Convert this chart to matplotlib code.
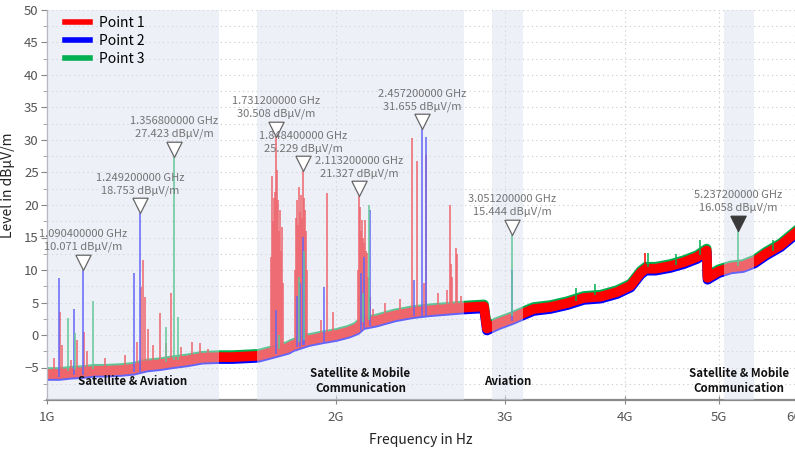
import numpy as np
import matplotlib
matplotlib.use("Agg")
import matplotlib.pyplot as plt
from matplotlib.lines import Line2D
from matplotlib.ticker import FixedLocator, NullLocator, MultipleLocator

plt.rcParams['font.family'] = ['Noto Sans CJK KR', 'DejaVu Sans']

# ---------------- data (frequency in GHz, level in dBuV/m) ----------------
band_freq = [1.00, 1.03, 1.06, 1.09, 1.12, 1.15, 1.19, 1.23, 1.27, 1.31, 1.35, 1.40,
             1.45, 1.51, 1.56, 1.61, 1.66, 1.70, 1.74, 1.78, 1.80, 1.87, 1.93, 2.00,
             2.06, 2.10, 2.13, 2.20, 2.30, 2.40, 2.50, 2.60, 2.70, 2.85, 2.87, 2.95,
             3.05, 3.15, 3.21, 3.34, 3.48, 3.62, 3.77, 3.92, 4.05, 4.15, 4.20, 4.30,
             4.45, 4.60, 4.75, 4.86, 4.87, 5.00, 5.15, 5.30, 5.45, 5.60, 5.80, 6.00]
red_level = [-6.0, -6.0, -5.8, -5.7, -5.5, -5.5, -5.4, -5.2, -4.7, -4.5, -4.2, -3.9,
             -3.5, -3.4, -3.4, -3.3, -3.2, -2.8, -2.4, -2.0, -1.6, -0.8, -0.4, 0.0,
             0.5, 1.0, 1.8, 2.2, 3.0, 3.5, 3.8, 4.0, 4.2, 4.4, 1.0, 1.8,
             2.6, 3.5, 4.0, 4.3, 4.9, 5.7, 5.9, 6.6, 7.6, 9.6, 10.2, 10.2,
             10.6, 11.2, 12.0, 13.0, 8.8, 9.8, 10.4, 10.6, 11.3, 12.5, 13.8, 15.6]
blue_level = [-6.3, -6.3, -6.1, -6.0, -5.8, -5.8, -5.7, -5.5, -5.0, -4.8, -4.5, -4.2,
              -3.8, -3.7, -3.7, -3.6, -3.5, -3.1, -2.7, -2.3, -1.9, -1.1, -0.7, -0.3,
              0.2, 0.7, 1.5, 1.9, 2.7, 3.2, 3.5, 3.7, 3.9, 4.1, 0.7, 1.5,
              2.3, 3.2, 3.7, 4.0, 4.6, 5.4, 5.6, 6.3, 7.3, 9.3, 9.9, 9.9,
              10.3, 10.9, 11.7, 12.7, 8.5, 9.5, 10.1, 10.3, 11.0, 12.2, 13.5, 15.3]
green_level = [-5.7, -5.7, -5.5, -5.4, -5.2, -5.2, -5.1, -4.9, -4.4, -4.2, -3.9, -3.6,
               -3.2, -3.1, -3.1, -3.0, -2.9, -2.5, -2.1, -1.7, -1.3, -0.5, -0.1, 0.3,
               0.8, 1.3, 2.1, 2.5, 3.3, 3.8, 4.1, 4.3, 4.5, 4.7, 1.3, 2.1,
               2.9, 3.8, 4.3, 4.6, 5.2, 6.0, 6.2, 6.9, 7.9, 9.9, 10.5, 10.5,
               10.9, 11.5, 12.3, 13.3, 9.1, 10.1, 10.7, 10.9, 11.6, 12.8, 14.1, 15.9]

red_spike_freq = [1.018, 1.032, 1.036, 1.060, 1.075, 1.092, 1.100, 1.150, 1.205, 1.240,
                  1.252, 1.259, 1.265, 1.275, 1.290, 1.311, 1.330, 1.346, 1.380, 1.415,
                  1.443, 1.470,
                  1.712, 1.716, 1.720, 1.724, 1.728, 1.7312, 1.735, 1.739, 1.743, 1.747,
                  1.751, 1.755, 1.760,
                  1.813, 1.817, 1.821, 1.825, 1.829, 1.833, 1.837, 1.841, 1.8484, 1.852,
                  1.856, 1.860, 1.864,
                  1.930, 1.958, 1.985,
                  2.106, 2.1132, 2.118, 2.123, 2.128, 2.133, 2.138, 2.143, 2.148, 2.153,
                  2.160, 2.170, 2.185,
                  2.250, 2.330, 2.401, 2.428, 2.470, 2.482, 2.550, 2.610, 2.630, 2.635,
                  2.640, 2.665, 2.672, 2.700, 4.19]
red_spike_base = [-6.2, -6.0, -6.0, -5.8, -5.7, -5.7, -5.6, -5.5, -5.3, -5.2,
                  -5.1, -5.0, -4.9, -4.8, -4.7, -4.5, -4.4, -4.2, -4.0, -3.8,
                  -3.5, -3.5,
                  -2.8, -2.7, -2.6, -2.6, -2.5, -2.5, -2.4, -2.4, -2.3, -2.3,
                  -2.2, -2.2, -2.1,
                  -1.6, -1.5, -1.5, -1.4, -1.4, -1.3, -1.3, -1.2, -1.1, -1.1,
                  -1.0, -1.0, -0.9,
                  -0.5, -0.3, -0.1,
                  0.9, 1.0, 1.1, 1.2, 1.3, 1.4, 1.5, 1.6, 1.7, 1.8,
                  1.9, 2.0, 2.0,
                  2.5, 3.0, 3.5, 3.5, 3.6, 3.6, 3.8, 3.9, 3.9, 3.9,
                  3.9, 4.0, 4.0, 4.1, 10.0]
red_spike_peak = [-3.5, 3.6, -1.5, -3.8, -0.8, 0.5, -2.5, -3.5, -3.0, -1.0,
                  7.4, 11.5, 5.9, 1.0, -1.5, 3.4, -1.2, 6.4, -1.8, -1.0,
                  -1.3, -2.2,
                  12.0, 24.4, 17.5, 21.0, 22.0, 30.508, 25.4, 20.8, 16.0, 19.2,
                  13.0, 16.6, 8.0,
                  10.0, 18.0, 20.8, 17.0, 22.8, 19.0, 21.5, 18.0, 25.229, 21.0,
                  19.2, 16.0, 10.0,
                  2.3, 21.8, 3.5,
                  10.0, 21.327, 19.7, 16.0, 17.7, 15.0, 14.1, 17.7, 13.0, 12.6,
                  9.0, 5.9, 4.0,
                  5.0, 5.5, 30.3, 26.7, 8.0, 27.7, 6.5, 7.0, 20.0, 11.0,
                  9.0, 13.4, 12.5, 6.0, 12.6]

blue_spike_freq = [1.029, 1.067, 1.0904, 1.232, 1.2492, 1.733, 1.822, 1.835, 1.845,
                   1.850, 1.944, 2.120, 2.140, 2.168, 2.410, 2.4572, 2.480, 3.0512]
blue_spike_base = [-6.5, -6.2, -6.2, -5.7, -5.7, -2.9, -1.9, -1.8, -1.6,
                   -1.6, -1.0, 0.6, 1.0, 1.4, 3.0, 3.0, 3.0, 2.1]
blue_spike_peak = [8.7, 4.0, 10.071, 9.5, 18.753, 3.8, 6.0, 8.0, 15.1,
                   12.0, 7.4, 9.5, 12.0, 19.2, 8.5, 31.655, 30.5, 10.0]

green_spike_freq = [1.052, 1.070, 1.117, 1.330, 1.3568, 1.370, 1.745, 1.830, 1.852,
                    2.135, 2.163, 3.0512, 3.55, 3.72, 4.22, 4.52, 4.78, 5.2372, 5.70]
green_spike_base = [-5.5, -5.4, -5.2, -4.2, -3.9, -3.8, -2.1, -1.0, -0.8,
                    2.0, 2.3, 2.9, 5.2, 6.2, 10.5, 10.8, 12.3, 10.6, 13.0]
green_spike_peak = [2.6, 0.3, 5.3, 1.3, 27.423, 2.8, 0.0, 9.0, 13.0,
                    6.4, 20.0, 15.444, 7.2, 7.8, 12.6, 12.5, 14.6, 16.058, 14.6]

marker_freq = [1.0904, 1.2492, 1.3568, 1.7312, 1.8484, 2.1132, 2.4572, 3.0512, 5.2372]
marker_level = [10.071, 18.753, 27.423, 30.508, 25.229, 21.327, 31.655, 15.444, 16.058]
marker_filled = [False, False, False, False, False, False, False, False, True]

region_start = [1.0, 1.655, 2.908, 5.06]
region_end = [1.51, 2.716, 3.13, 5.44]
region_label = ["Satellite & Aviation", "Satellite & Mobile\nCommunication",
                "Aviation", "Satellite & Mobile\nCommunication"]

x_ticks = [1, 2, 3, 4, 5, 6]
x_tick_labels = ["1G", "2G", "3G", "4G", "5G", "6G"]
y_ticks = [-5, 0, 5, 10, 15, 20, 25, 30, 35, 40, 45, 50]
series_names = ["Point 1", "Point 2", "Point 3"]

# ---------------- styling ----------------
RED, BLUE, GREEN = "#ff0000", "#0000ff", "#00b050"
TXT_GRAY = "#747474"

fig = plt.figure(figsize=(7.95, 4.5), dpi=100)
ax = fig.add_axes([47 / 795, 1 - 400 / 450, 1 - 47 / 795 - 0.0005, 390 / 450])
ax.set_xscale("log")
ax.set_xlim(1.0, 6.0)
ax.set_ylim(-10, 50)

# noise-floor bands
ax.plot(band_freq, green_level, color=GREEN, lw=7.0, zorder=1.5)
ax.plot(band_freq, blue_level, color=BLUE, lw=7.0, zorder=1.6)
ax.plot(band_freq, red_level, color=RED, lw=7.0, zorder=1.7)

# spikes
ax.vlines(red_spike_freq, red_spike_base, red_spike_peak, color=RED, lw=1.1, zorder=1.8)
ax.vlines(blue_spike_freq, blue_spike_base, blue_spike_peak, color=BLUE, lw=1.1, zorder=1.9)
ax.vlines(green_spike_freq, green_spike_base, green_spike_peak, color=GREEN, lw=1.1, zorder=2.0)

# shaded band overlays
for s, e, lab in zip(region_start, region_end, region_label):
    ax.axvspan(s, e, color=(0.853, 0.879, 0.94), alpha=0.455, lw=0, zorder=3)
    ax.text(np.sqrt(s * e), -7.1, lab, ha="center", va="center", fontsize=8.3,
            fontweight="bold", color="#111111", linespacing=1.15, zorder=6)

# markers
tri = [(-0.5, 1.0), (0.5, 1.0), (0.0, 0.0), (-0.5, 1.0)]
for f, v, filled in zip(marker_freq, marker_level, marker_filled):
    ax.plot([f], [v], marker=tri, markersize=22, linestyle="none",
            markerfacecolor=("#3a3a3a" if filled else "white"),
            markeredgecolor=("#3a3a3a" if filled else "#666666"),
            markeredgewidth=0.9, zorder=5, clip_on=False)
    ax.annotate(f"{f:.9f} GHz\n{v:.3f} dBμV/m", xy=(f, v), xytext=(0, 12.5),
                textcoords="offset points", ha="center", va="bottom",
                fontsize=8.0, color=TXT_GRAY, linespacing=1.3, zorder=6,
                annotation_clip=False)

# axes styling
ax.xaxis.set_major_locator(FixedLocator(x_ticks))
ax.set_xticklabels(x_tick_labels)
ax.xaxis.set_minor_locator(NullLocator())
ax.yaxis.set_major_locator(FixedLocator(y_ticks))
ax.yaxis.set_minor_locator(MultipleLocator(2.5))
ax.tick_params(axis="x", which="major", direction="inout", length=6, width=0.8,
               colors="#888888", labelcolor="#555555", labelsize=9.5, pad=5)
ax.tick_params(axis="y", which="major", direction="out", length=4, width=0.8,
               colors="#888888", labelcolor="#555555", labelsize=9.5, pad=2)
ax.tick_params(axis="y", which="minor", direction="out", length=3, width=0.6,
               colors="#999999")
ax.grid(True, which="both", axis="y", color="#c8c8c8", linestyle=(0, (1, 3)), lw=0.8)
ax.grid(True, which="major", axis="x", color="#c8c8c8", linestyle=(0, (1, 3)), lw=0.8)
ax.set_axisbelow(True)
for sp in ("top", "right"):
    ax.spines[sp].set_visible(False)
ax.spines["left"].set_color("#999999")
ax.spines["left"].set_linewidth(0.9)
ax.spines["bottom"].set_color("#8a8a8a")
ax.spines["bottom"].set_linewidth(1.6)

ax.set_ylabel("Level in dBμV/m", fontsize=10, color="#222222")
ax.yaxis.set_label_coords(-0.043, 0.55)
ax.set_xlabel("Frequency in Hz", fontsize=10, color="#222222")
ax.xaxis.set_label_coords(0.5, -0.085)

handles = [Line2D([], [], color=c, lw=4) for c in (RED, BLUE, GREEN)]
ax.legend(handles, series_names, loc="upper left", bbox_to_anchor=(0.017, 1.0),
          borderaxespad=0, frameon=False, fontsize=10, handlelength=1.8,
          handletextpad=0.6, labelspacing=0.3)

fig.savefig("out.png", dpi=100)
